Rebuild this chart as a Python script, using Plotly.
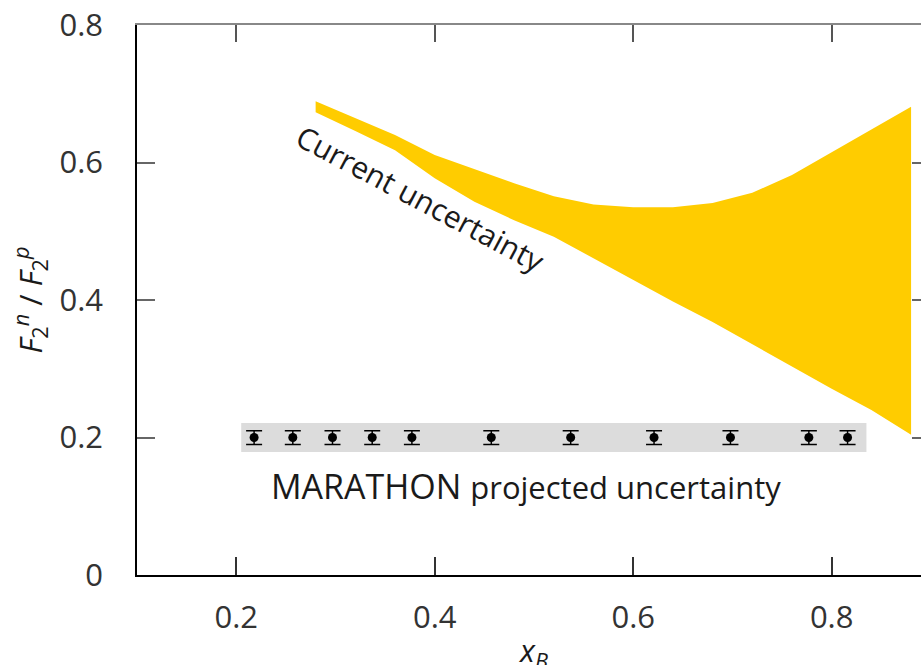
import plotly.graph_objects as go

# Current F2n/F2p uncertainty band (lower / upper edges on a common x grid)
band_x = [0.28, 0.32, 0.36, 0.40, 0.44, 0.48, 0.52, 0.56, 0.60, 0.64,
          0.68, 0.72, 0.76, 0.80, 0.84, 0.88]
band_upper = [0.689, 0.664, 0.640, 0.611, 0.590, 0.570, 0.551, 0.539, 0.535, 0.535,
              0.541, 0.556, 0.582, 0.615, 0.647, 0.681]
band_lower = [0.673, 0.646, 0.618, 0.577, 0.543, 0.516, 0.492, 0.461, 0.429, 0.398,
              0.368, 0.336, 0.303, 0.271, 0.240, 0.204]

# MARATHON projected points
marathon_x = [0.218, 0.257, 0.297, 0.337, 0.377, 0.457, 0.537, 0.621, 0.698, 0.777, 0.816]
marathon_y = [0.20] * len(marathon_x)
marathon_err = [0.010] * len(marathon_x)

# grey strip behind the projected points
strip_x = [0.205, 0.835]
strip_y = [0.179, 0.221]

x_ticks = [0.2, 0.4, 0.6, 0.8]
x_ticktext = ["0.2", "0.4", "0.6", "0.8"]
y_ticks = [0.0, 0.2, 0.4, 0.6, 0.8]
y_ticktext = ["0", "0.2", "0.4", "0.6", "0.8"]

FONT = "Open Sans"
TICKCOL = "#333333"

fig = go.Figure()

# yellow band as a closed polygon
fig.add_trace(go.Scatter(
    x=band_x + band_x[::-1],
    y=band_upper + band_lower[::-1],
    fill="toself", fillcolor="#FFCC00",
    line=dict(width=0), mode="lines", hoverinfo="skip", showlegend=False,
))

# grey strip
fig.add_trace(go.Scatter(
    x=[strip_x[0], strip_x[1], strip_x[1], strip_x[0], strip_x[0]],
    y=[strip_y[0], strip_y[0], strip_y[1], strip_y[1], strip_y[0]],
    fill="toself", fillcolor="#DCDCDC",
    line=dict(width=0), mode="lines", hoverinfo="skip", showlegend=False,
))

# projected data points with error bars
fig.add_trace(go.Scatter(
    x=marathon_x, y=marathon_y, mode="markers",
    marker=dict(color="black", size=9),
    error_y=dict(type="data", array=marathon_err, visible=True,
                 color="black", thickness=1.5, width=8),
    showlegend=False,
))

# empty trace so the mirrored top/right axes get drawn
fig.add_trace(go.Scatter(x=[None], y=[None], xaxis="x2", yaxis="y2",
                         mode="markers", showlegend=False, hoverinfo="skip"))

fig.add_annotation(
    x=0.386, y=0.548, text="Current uncertainty", showarrow=False,
    textangle=28, font=dict(family=FONT, size=30, color="#1a1a1a"),
)
fig.add_annotation(
    x=0.492, y=0.129,
    text="MARATHON <span style='font-size:31px'>projected uncertainty</span>",
    showarrow=False, font=dict(family=FONT, size=34, color="#1a1a1a"),
)
# x-axis title placed below the tick labels
fig.add_annotation(
    xref="paper", yref="paper", x=0.505, y=-0.14, yanchor="middle",
    text="<i>x</i><sub><i>B</i></sub>", showarrow=False,
    font=dict(family=FONT, size=31, color="#1a1a1a"),
)

axis_common = dict(showgrid=False, zeroline=False, ticks="inside",
                   ticklen=18, tickwidth=1.5, automargin=False)

fig.update_layout(
    width=921, height=665,
    margin=dict(l=137, r=0, t=25, b=90),
    plot_bgcolor="white", paper_bgcolor="white",
    xaxis=dict(range=[0.1, 0.89], tickvals=x_ticks, ticktext=x_ticktext,
               showline=True, linecolor="black", linewidth=1.5,
               tickcolor="#333333", ticklabelstandoff=14,
               tickfont=dict(family=FONT, size=31, color=TICKCOL),
               **axis_common),
    yaxis=dict(range=[0, 0.8], tickvals=y_ticks, ticktext=y_ticktext,
               showline=True, linecolor="black", linewidth=1.5,
               tickcolor="#666666", ticklabelstandoff=26,
               tickfont=dict(family=FONT, size=31, color=TICKCOL),
               title=dict(text="<i>F</i><sub>2</sub><sup><i>n</i></sup> / <i>F</i><sub>2</sub><sup><i>p</i></sup>",
                          standoff=8,
                          font=dict(family=FONT, size=31, color="#1a1a1a")),
               **axis_common),
    xaxis2=dict(overlaying="x", side="top", anchor="y2", matches="x",
                range=[0.1, 0.89], tickvals=x_ticks, showticklabels=False,
                showline=True, linecolor="#888888", linewidth=1.5,
                tickcolor="#555555", showgrid=False, zeroline=False,
                ticks="inside", ticklen=17, tickwidth=1.5, automargin=False),
    yaxis2=dict(overlaying="y", side="right", anchor="x2", matches="y",
                range=[0, 0.8], tickvals=y_ticks, showticklabels=False,
                showline=False, tickcolor="#666666", showgrid=False,
                zeroline=False, ticks="inside", ticklen=9, tickwidth=1.5,
                automargin=False),
)

fig.write_html("out.html")
